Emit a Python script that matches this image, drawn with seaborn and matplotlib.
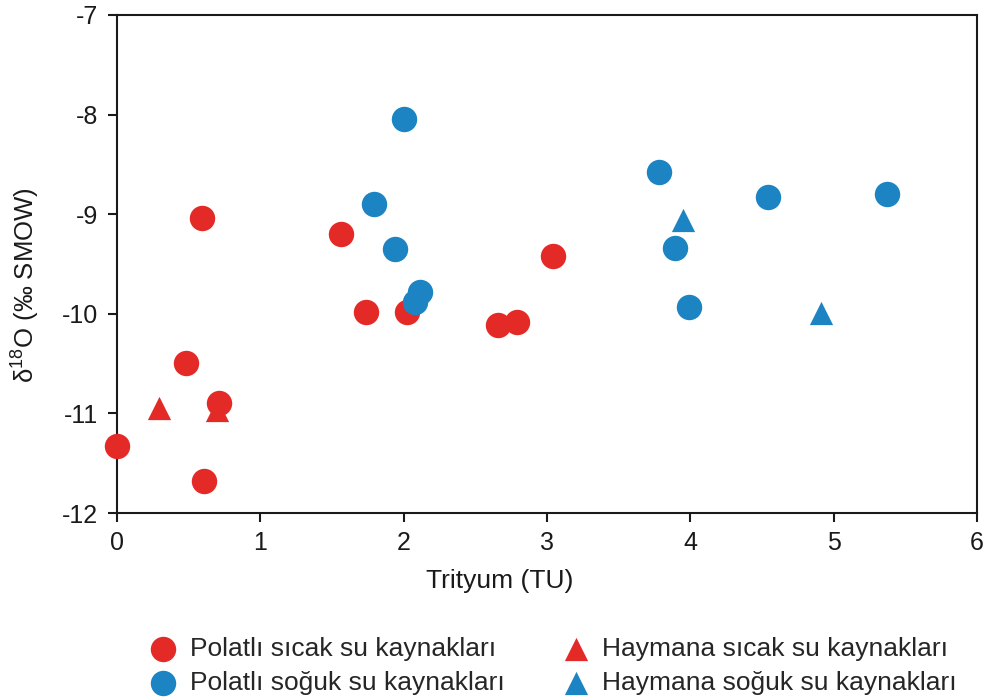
import matplotlib
matplotlib.use("Agg")
import matplotlib.pyplot as plt
import seaborn as sns
import pandas as pd

# --- data ---
polatli_sicak_x = [0.00, 0.48, 0.71, 0.61, 0.59, 1.56, 1.74, 2.02, 3.04, 2.66, 2.79]
polatli_sicak_y = [-11.33, -10.49, -10.89, -11.68, -9.04, -9.20, -9.98, -9.98, -9.42, -10.11, -10.08]

polatli_soguk_x = [2.00, 1.79, 1.94, 2.11, 2.08, 3.78, 4.54, 5.37, 3.89, 3.99]
polatli_soguk_y = [-8.04, -8.90, -9.35, -9.78, -9.88, -8.58, -8.83, -8.80, -9.34, -9.93]

haymana_sicak_x = [0.29, 0.70]
haymana_sicak_y = [-10.95, -10.97]

haymana_soguk_x = [3.95, 4.91]
haymana_soguk_y = [-9.06, -9.99]

labels = ["Polatlı sıcak su kaynakları", "Polatlı soğuk su kaynakları",
          "Haymana sıcak su kaynakları", "Haymana soğuk su kaynakları"]

x_ticks = [0, 1, 2, 3, 4, 5, 6]
y_ticks = [-12, -11, -10, -9, -8, -7]

RED = "#E42A26"
BLUE = "#1C84C2"
INK = "#1a1a1a"

sns.set_style("white")
plt.rcParams["font.family"] = ["Liberation Sans", "DejaVu Sans"]
plt.rcParams["mathtext.default"] = "regular"

fig = plt.figure(figsize=(9.86, 7.0), dpi=100)
ax = fig.add_axes([0.1187, 0.267, 0.991 - 0.1187, 0.9786 - 0.267])

groups = [
    (polatli_sicak_x, polatli_sicak_y, RED, "o", 335, labels[0]),
    (polatli_soguk_x, polatli_soguk_y, BLUE, "o", 335, labels[1]),
    (haymana_sicak_x, haymana_sicak_y, RED, "^", 280, labels[2]),
    (haymana_soguk_x, haymana_soguk_y, BLUE, "^", 280, labels[3]),
]
for gx, gy, col, mk, s, lab in groups:
    df = pd.DataFrame({"x": gx, "y": gy})
    sns.scatterplot(data=df, x="x", y="y", color=col, marker=mk, s=s,
                    linewidth=0, ax=ax, label=lab, zorder=3, clip_on=False)

ax.set_xlim(0, 6)
ax.set_ylim(-12, -7)
ax.set_xticks(x_ticks)
ax.set_yticks(y_ticks)
ax.set_xticklabels([str(t) for t in x_ticks])
ax.set_yticklabels([str(t) for t in y_ticks])

for sp in ax.spines.values():
    sp.set_visible(True)
    sp.set_linewidth(1.5)
    sp.set_color(INK)

ax.tick_params(axis="both", which="major", direction="out", length=6.5, width=1.5,
               color=INK, labelsize=18, labelcolor=INK,
               bottom=True, left=True, top=False, right=False)
ax.tick_params(axis="x", pad=6.5)
ax.tick_params(axis="y", pad=7)

ax.set_xlabel("Trityum (TU)", fontsize=19, color=INK)
ax.set_ylabel(r"$\delta^{18}$O (‰ SMOW)", fontsize=18.5, color=INK)
ax.xaxis.set_label_coords(0.445, -0.113)
ax.yaxis.set_label_coords(-0.087, 0.458)

ax.legend(loc="upper left", bbox_to_anchor=(150 / 986, 1 - 637 / 700),
          bbox_transform=fig.transFigure, ncol=2,
          frameon=False, fontsize=19, handletextpad=0.5, columnspacing=2.2,
          labelspacing=0.38, borderaxespad=0, borderpad=0, handlelength=1.0,
          markerscale=1.0)

fig.savefig("out.png", dpi=100)
